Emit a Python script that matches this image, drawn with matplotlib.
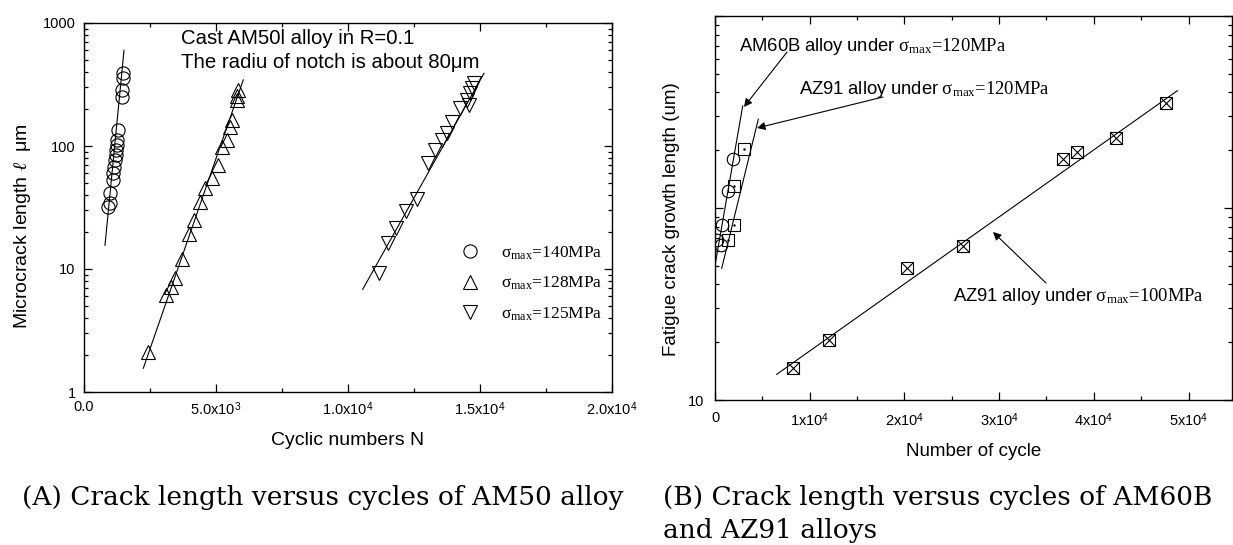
import numpy as np
import matplotlib
matplotlib.use("Agg")
import matplotlib.pyplot as plt
from matplotlib.ticker import FixedLocator, FixedFormatter, LogLocator, NullFormatter

plt.rcParams['font.family'] = ['Liberation Sans', 'DejaVu Sans']
plt.rcParams['mathtext.fontset'] = 'custom'
plt.rcParams['mathtext.rm'] = 'Liberation Serif'
plt.rcParams['mathtext.it'] = 'Liberation Serif:italic'
plt.rcParams['mathtext.bf'] = 'Liberation Serif:bold'
plt.rcParams['mathtext.sf'] = 'Liberation Sans'

# ---------------- Panel A data (AM50 alloy) ----------------
n140 = [920, 985, 985, 1086, 1111, 1136, 1174, 1199, 1212, 1237, 1263, 1300, 1427, 1427, 1465, 1465]
l140 = [31.8, 34.6, 41.3, 52.9, 60, 67.9, 76.9, 84.5, 92.8, 102, 112, 135, 252, 285, 355, 390]
n128 = [2437, 3106, 3283, 3447, 3700, 3990, 4167, 4394, 4583, 4836, 5087, 5215, 5404, 5530, 5594, 5808, 5808, 5846]
l128 = [2.13, 6.15, 7.18, 8.5, 12, 19.2, 25, 34.9, 45.8, 54.6, 70.1, 98.7, 112, 142, 163, 237, 253, 285]
n125 = [11186, 11527, 11818, 12197, 12601, 13042, 13295, 13549, 13738, 13928, 14242, 14495, 14600, 14621, 14685, 14773]
l125 = [9.2, 16.4, 21.4, 29.8, 36.9, 72.3, 92.8, 112, 127, 158, 202, 237, 215, 268, 294, 323]
fit140_n = [795, 1515]
fit140_l = [15.6, 600]
fit128_n = [2247, 6034]
fit128_l = [1.56, 345]
fit125_n = [10557, 15151]
fit125_l = [6.84, 390]
labels_a = [r'σ$_{\mathrm{max}}$=140MPa', r'σ$_{\mathrm{max}}$=128MPa', r'σ$_{\mathrm{max}}$=125MPa']
xticks_a = [0, 5000, 10000, 15000, 20000]
xticklabels_a = ['0.0', r'5.0x10$^{\mathsf{3}}$', r'1.0x10$^{\mathsf{4}}$', r'1.5x10$^{\mathsf{4}}$', r'2.0x10$^{\mathsf{4}}$']
yticks_a = [1, 10, 100, 1000]
yticklabels_a = ['1', '10', '100', '1000']

# ---------------- Panel B data (AM60B and AZ91 alloys) ----------------
n_am60 = [180, 602, 771, 1341, 1933]
l_am60 = [68, 64, 82, 122, 180]
n_az120 = [1337, 2037, 2037, 3098]
l_az120 = [68, 81.5, 130, 202]
n_az100 = [8205, 12070, 20243, 26156, 36780, 38195, 42312, 47592]
l_az100 = [14.7, 20.5, 48.5, 63.4, 180, 196, 232, 351]
fit_am60_n = [-100, 2925]
fit_am60_l = [47, 340]
fit_az120_n = [707, 4572]
fit_az120_l = [48.5, 290]
fit_az100_n = [6515, 48817]
fit_az100_l = [13.6, 408]
xticks_b = [0, 10000, 20000, 30000, 40000, 50000]
xticklabels_b = ['0', r'1x10$^{\mathsf{4}}$', r'2x10$^{\mathsf{4}}$', r'3x10$^{\mathsf{4}}$', r'4x10$^{\mathsf{4}}$', r'5x10$^{\mathsf{4}}$']
yticks_b = [10, 100, 1000]
yticklabels_b = ['10', '', '']

fig = plt.figure(figsize=(12.33, 5.45), dpi=100)

def style_axes(ax):
    for s in ax.spines.values():
        s.set_linewidth(1.0)
    ax.tick_params(which='both', direction='in', top=True, right=True, width=0.9)
    ax.tick_params(which='major', length=6)
    ax.tick_params(which='minor', length=3)

# ---------------- Panel A ----------------
axa = fig.add_axes([84/1233, 1-392/545, 528/1233, 369/545])
axa.set_yscale('log')
axa.set_xlim(0, 20000)
axa.set_ylim(1, 1000)
lw = 0.8
axa.plot(fit140_n, fit140_l, color='black', lw=lw)
axa.plot(fit128_n, fit128_l, color='black', lw=lw)
axa.plot(fit125_n, fit125_l, color='black', lw=lw)
h1, = axa.plot(n140, l140, ls='none', marker='o', ms=9.5, mfc='none', mec='black', mew=0.8, label=labels_a[0])
h2, = axa.plot(n128, l128, ls='none', marker='^', ms=10, mfc='none', mec='black', mew=0.8, label=labels_a[1])
h3, = axa.plot(n125, l125, ls='none', marker='v', ms=10, mfc='none', mec='black', mew=0.8, label=labels_a[2])
style_axes(axa)
axa.xaxis.set_major_locator(FixedLocator(xticks_a))
axa.xaxis.set_major_formatter(FixedFormatter(xticklabels_a))
axa.xaxis.set_minor_locator(FixedLocator([2500, 7500, 12500, 17500]))
axa.yaxis.set_major_locator(FixedLocator(yticks_a))
axa.yaxis.set_major_formatter(FixedFormatter(yticklabels_a))
axa.yaxis.set_minor_locator(LogLocator(base=10, subs=np.arange(2, 10)))
axa.yaxis.set_minor_formatter(NullFormatter())
axa.tick_params(axis='both', which='major', labelsize=10.5, pad=6)
axa.set_xlabel('Cyclic numbers N', fontsize=14, labelpad=10)
axa.set_ylabel(r'Microcrack length $\ell$  μm', fontsize=14)
axa.yaxis.set_label_coords(-0.097, 0.45)
axa.text(0.1837, 0.943, 'Cast AM50l alloy in R=0.1', transform=axa.transAxes, fontsize=14.7, va='baseline', ha='left')
axa.text(0.1837, 0.877, 'The radiu of notch is about 80μm', transform=axa.transAxes, fontsize=14.7, va='baseline', ha='left')
leg = axa.legend(handles=[h1, h2, h3], loc='upper left', bbox_to_anchor=(0.714, 0.40),
                 frameon=False, borderaxespad=0, borderpad=0, handlelength=1.0,
                 handletextpad=1.3, labelspacing=0.75,
                 prop={'family': 'Liberation Serif', 'size': 12.5})

# ---------------- Panel B ----------------
axb = fig.add_axes([715/1233, 1-400/545, 516.5/1233, 384/545])
axb.set_yscale('log')
axb.set_xlim(0, 54540)
axb.set_ylim(10, 1000)
axb.plot(fit_am60_n, fit_am60_l, color='black', lw=lw)
axb.plot(fit_az120_n, fit_az120_l, color='black', lw=lw)
axb.plot(fit_az100_n, fit_az100_l, color='black', lw=lw)
axb.plot(n_am60, l_am60, ls='none', marker='o', ms=9, mfc='none', mec='black', mew=0.8)
axb.plot(n_az120, l_az120, ls='none', marker='s', ms=8, mfc='none', mec='black', mew=0.8)
axb.plot(n_az120, l_az120, ls='none', marker='.', ms=1.5, color='black')
axb.plot(n_az100, l_az100, ls='none', marker='s', ms=8, mfc='none', mec='black', mew=0.8)
axb.plot(n_az100, l_az100, ls='none', marker='x', ms=8, mec='black', mew=0.8)
style_axes(axb)
axb.xaxis.set_major_locator(FixedLocator(xticks_b))
axb.xaxis.set_major_formatter(FixedFormatter(xticklabels_b))
axb.xaxis.set_minor_locator(FixedLocator([5000, 15000, 25000, 35000, 45000]))
axb.yaxis.set_major_locator(FixedLocator(yticks_b))
axb.yaxis.set_major_formatter(FixedFormatter(yticklabels_b))
axb.yaxis.set_minor_locator(LogLocator(base=10, subs=np.arange(2, 10)))
axb.yaxis.set_minor_formatter(NullFormatter())
axb.tick_params(axis='both', which='major', labelsize=10.5, pad=8)
axb.set_xlabel('Number of cycle', fontsize=13.5, labelpad=10)
axb.set_ylabel('Fatigue crack growth length (um)', fontsize=13.5)
axb.yaxis.set_label_coords(-0.068, 0.47)

ann_kw = dict(fontsize=13.3, family='Liberation Serif', va='baseline', ha='left', transform=axb.transAxes)
axb.text(0.0465, 0.909, r'$\mathsf{AM60B\ alloy\ under\ }$σ$_{\mathrm{max}}$=120MPa', **ann_kw)
axb.text(0.1626, 0.7956, r'$\mathsf{AZ91\ alloy\ under\ }$σ$_{\mathrm{max}}$=120MPa', **ann_kw)
axb.text(0.4608, 0.2578, r'$\mathsf{AZ91\ alloy\ under\ }$σ$_{\mathrm{max}}$=100MPa', **ann_kw)
arrow = dict(arrowstyle='-|>', color='black', lw=0.8, mutation_scale=12, shrinkA=0, shrinkB=0)
axb.annotate('', xy=(3062, 336), xycoords='data', xytext=(0.1394, 0.906), textcoords='axes fraction', arrowprops=arrow)
axb.annotate('', xy=(4435, 261), xycoords='data', xytext=(0.3253, 0.789), textcoords='axes fraction', arrowprops=arrow)
axb.annotate('', xy=(29356, 75), xycoords='data', xytext=(0.6409, 0.3047), textcoords='axes fraction', arrowprops=arrow)

# ---------------- Captions ----------------
cap_kw = dict(family='DejaVu Serif', fontsize=19, va='baseline', ha='left')
fig.text(22/1233, 1-505/545, '(A) Crack length versus cycles of AM50 alloy', **cap_kw)
fig.text(663/1233, 1-505/545, '(B) Crack length versus cycles of AM60B', **cap_kw)
fig.text(663/1233, 1-538/545, 'and AZ91 alloys', **cap_kw)

fig.savefig('out.png', dpi=100)
